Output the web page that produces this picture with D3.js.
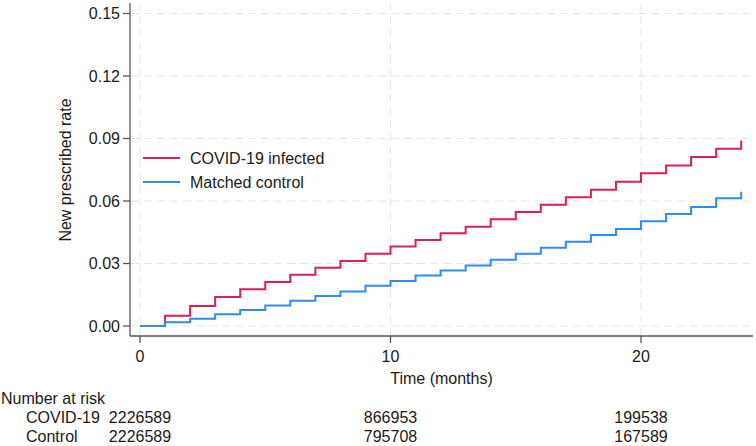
<!DOCTYPE html>
<html><head><meta charset="utf-8">
<script src="https://cdn.jsdelivr.net/npm/d3@7"></script>
<style>body{margin:0;background:#fff}svg{display:block}text{font-family:"Liberation Sans",Arial,sans-serif;fill:#1a1a1a}</style>
</head><body>
<script>
const months = [0,1,2,3,4,5,6,7,8,9,10,11,12,13,14,15,16,17,18,19,20,21,22,23,24];
const covid = [0,0.0049,0.0096,0.0139,0.0176,0.0211,0.0246,0.028,0.0312,0.0347,0.0382,0.0413,0.0445,0.0477,0.0512,0.0547,0.0582,0.0618,0.0654,0.0693,0.0733,0.077,0.0811,0.0851,0.089];
const control = [0,0.0018,0.0035,0.0056,0.0077,0.0099,0.0121,0.0144,0.0166,0.0193,0.0216,0.0243,0.0266,0.0291,0.0318,0.0347,0.0376,0.0405,0.0437,0.0466,0.0503,0.0538,0.0571,0.0613,0.0645];
const yTicks = [0,0.03,0.06,0.09,0.12,0.15];
const xTicks = [0,10,20];
const seriesNames = ["COVID-19 infected","Matched control"];
const riskLabels = ["COVID-19","Control"];
const riskCovid = [2226589,866953,199538];
const riskControl = [2226589,795708,167589];
const colors = ["#dc1f5a","#2f8cf0"];

const W=756,H=446;
const svg=d3.select("body").append("svg").attr("width",W).attr("height",H);
const x=d3.scaleLinear().domain([0,24]).range([140,741.2]);
const y=d3.scaleLinear().domain([0,0.15]).range([326,13.5]);
const L=130,R=753,T=3,B=336;

// grid
const grid=svg.append("g").attr("stroke","#e6e6e6").attr("stroke-width",1).attr("stroke-dasharray","8,5");
grid.selectAll(".gy").data(yTicks).join("line").attr("x1",L+1).attr("x2",R).attr("y1",d=>y(d)).attr("y2",d=>y(d));
grid.selectAll(".gx").data(xTicks).join("line").attr("y1",T).attr("y2",B).attr("x1",d=>x(d)).attr("x2",d=>x(d));

// axes
const ax=svg.append("g").attr("stroke","#555").attr("stroke-width",1.3);
ax.append("line").attr("x1",L).attr("x2",L).attr("y1",T).attr("y2",B);
ax.append("line").attr("x1",L).attr("x2",R).attr("y1",B).attr("y2",B);
ax.selectAll(".ty").data(yTicks).join("line").attr("x1",L-7).attr("x2",L).attr("y1",d=>y(d)).attr("y2",d=>y(d));
ax.selectAll(".tx").data(xTicks).join("line").attr("y1",B).attr("y2",B+7).attr("x1",d=>x(d)).attr("x2",d=>x(d));

svg.selectAll(".ly").data(yTicks).join("text").attr("x",L-10).attr("y",d=>y(d)+5.5)
  .attr("text-anchor","end").attr("font-size",16).text(d=>d3.format(".2f")(d));
svg.selectAll(".lx").data(xTicks).join("text").attr("x",d=>x(d)).attr("y",362)
  .attr("text-anchor","middle").attr("font-size",16).text(d=>d);

svg.append("text").attr("transform","translate(71,170) rotate(-90)").attr("text-anchor","middle").attr("font-size",16).text("New prescribed rate");
svg.append("text").attr("x",(L+R)/2).attr("y",384).attr("text-anchor","middle").attr("font-size",16).text("Time (months)");

// curves
const line=d3.line().curve(d3.curveStepAfter).x((d,i)=>x(months[i])).y(d=>y(d));
[covid,control].forEach((s,k)=>{
  svg.append("path").attr("d",line(s)).attr("fill","none").attr("stroke",colors[k]).attr("stroke-width",2);
});

// legend
const legY=[158,182];
seriesNames.forEach((n,k)=>{
  svg.append("line").attr("x1",143).attr("x2",180).attr("y1",legY[k]).attr("y2",legY[k]).attr("stroke",colors[k]).attr("stroke-width",2);
  svg.append("text").attr("x",190).attr("y",legY[k]+5.5).attr("font-size",16).text(n);
});

// risk table
svg.append("text").attr("x",1).attr("y",404).attr("font-size",16).text("Number at risk");
const rows=[riskCovid,riskControl];
const rowY=[423,442];
riskLabels.forEach((lab,k)=>{
  svg.append("text").attr("x",26).attr("y",rowY[k]).attr("font-size",16).text(lab);
  svg.selectAll(null).data(rows[k]).join("text").attr("x",(d,i)=>x(xTicks[i])).attr("y",rowY[k])
    .attr("text-anchor","middle").attr("font-size",16).text(d=>d);
});
</script>
</body></html>
